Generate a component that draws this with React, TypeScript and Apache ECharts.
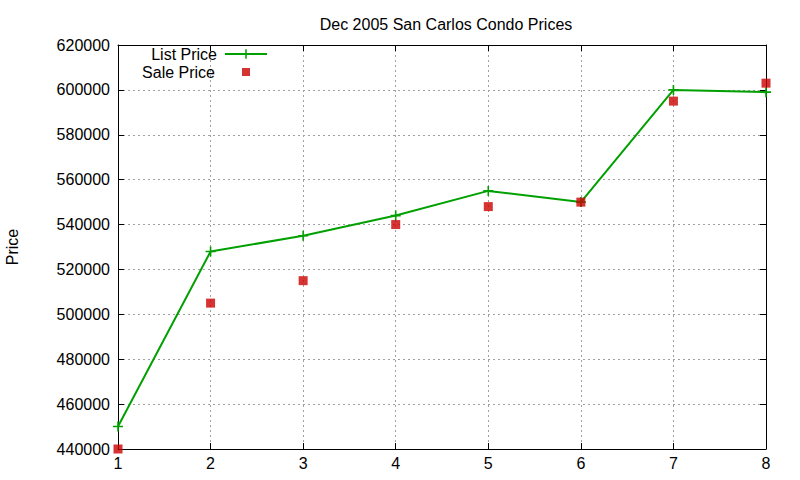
import React, { useEffect, useRef } from 'react';
import * as echarts from 'echarts';

const months = [1, 2, 3, 4, 5, 6, 7, 8];
const listPrice = [450000, 528000, 535000, 544000, 555000, 550000, 600000, 599000];
const salePrice = [440000, 505000, 515000, 540000, 548000, 550000, 595000, 603000];

const FONT = 'Liberation Sans';
const plus = 'path://M4.2,0H5.8V4.2H10V5.8H5.8V10H4.2V5.8H0V4.2H4.2Z';

const App: React.FC = () => {
  const chartRef = useRef<HTMLDivElement>(null);

  useEffect(() => {
    document.body.style.margin = '0';
    const chart = echarts.init(chartRef.current!, undefined, { renderer: 'svg' });

    const tick = { inside: true, length: 6, lineStyle: { color: '#000' } };
    const line = { show: true, onZero: false, lineStyle: { color: '#000', width: 1 } };
    const grid = { show: true, lineStyle: { color: '#a0a0a0', type: [2, 3] } };
    const txt = { fontFamily: FONT, fontSize: 16, color: '#000' };

    chart.setOption({
      animation: false,
      textStyle: { fontFamily: FONT },
      title: {
        text: 'Dec 2005 San Carlos Condo Prices',
        left: 441,
        textAlign: 'center',
        top: 11,
        textStyle: { ...txt, fontWeight: 'normal' },
      },
      legend: [
        {
          data: ['List Price'],
          right: 532,
          top: 46,
          padding: 0,
          align: 'right',
          itemWidth: 42,
          itemHeight: 12,
          textStyle: { ...txt, padding: [0, 3, 0, 0] },
        },
        {
          data: [{ name: 'Sale Price', icon: 'rect' }],
          right: 550,
          top: 64,
          padding: 0,
          align: 'right',
          itemWidth: 8,
          itemHeight: 8,
          textStyle: { ...txt, padding: [0, 22, 0, 0] },
        },
      ],
      grid: { left: 118, right: 34, top: 45, bottom: 31, outerBoundsMode: 'none' },
      xAxis: [
        {
          type: 'value',
          min: 1,
          max: 8,
          interval: 1,
          axisLine: line,
          axisTick: tick,
          splitLine: grid,
          axisLabel: { ...txt, margin: 6 },
        },
        {
          type: 'value',
          position: 'top',
          min: 1,
          max: 8,
          interval: 1,
          axisLine: line,
          axisTick: tick,
          splitLine: { show: false },
          axisLabel: { show: false },
        },
      ],
      yAxis: [
        {
          type: 'value',
          min: 440000,
          max: 620000,
          interval: 20000,
          name: 'Price',
          nameLocation: 'middle',
          nameRotate: 90,
          nameGap: 98,
          nameTextStyle: txt,
          axisLine: line,
          axisTick: tick,
          splitLine: grid,
          axisLabel: { ...txt, margin: 8, formatter: (v: number) => String(v) },
        },
        {
          type: 'value',
          position: 'right',
          min: 440000,
          max: 620000,
          interval: 20000,
          axisLine: line,
          axisTick: tick,
          splitLine: { show: false },
          axisLabel: { show: false },
        },
      ],
      series: [
        {
          name: 'List Price',
          type: 'line',
          data: months.map((m, i) => [m, listPrice[i]]),
          color: '#00a000',
          lineStyle: { width: 2, color: '#00a000' },
          symbol: plus,
          symbolSize: 10,
          showAllSymbol: true,
          itemStyle: { color: '#00a000' },
          z: 3,
        },
        {
          name: 'Sale Price',
          type: 'scatter',
          data: months.map((m, i) => [m, salePrice[i]]),
          symbol: 'rect',
          symbolSize: 9,
          itemStyle: { color: '#cc0000' },
          z: 4,
        },
      ],
    });

    const onResize = () => chart.resize();
    window.addEventListener('resize', onResize);
    return () => {
      window.removeEventListener('resize', onResize);
      chart.dispose();
    };
  }, []);

  return <div ref={chartRef} style={{ width: '800px', height: '480px' }} />;
};

export default App;
